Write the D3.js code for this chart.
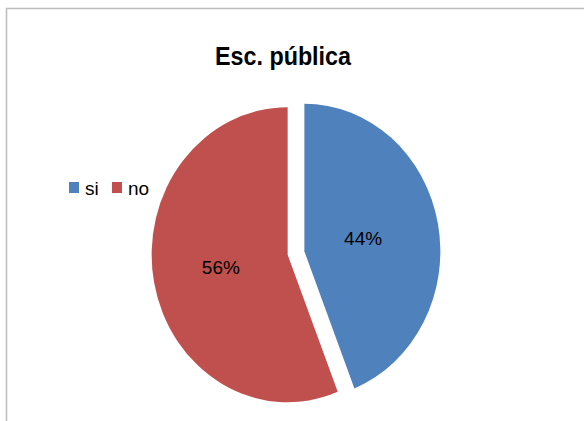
<!DOCTYPE html>
<html><head><meta charset="utf-8">
<script src="https://cdn.jsdelivr.net/npm/d3@7"></script>
<style>body{margin:0;background:#fff}svg{display:block}</style>
</head><body>
<script>
const categories = ["si", "no"];
const values = [44, 56];
const labels = ["44%", "56%"];
const colors = ["#4F81BD", "#C0504D"];
const title = "Esc. pública";

const W = 584, H = 421;
const svg = d3.select("body").append("svg").attr("width", W).attr("height", H);

// frame
svg.append("rect").attr("x", 6.5).attr("y", 8.5).attr("width", 600).attr("height", 450)
  .attr("fill", "#fff").attr("stroke", "#bdbdbd").attr("stroke-width", 1.5);

svg.append("text").attr("x", 283).attr("y", 65).attr("text-anchor", "middle")
  .attr("font-family", "Liberation Sans, Arial, sans-serif").attr("font-weight", "bold")
  .attr("font-size", 25).attr("textLength", 136).attr("lengthAdjust", "spacingAndGlyphs")
  .attr("fill", "#000").text(title);

const cx = 296, cy = 253, rx = 136, ry = 147.5, explode = 8.5;
const pie = d3.pie().sort(null).value(d => d)(values);
const arc = d3.arc().innerRadius(0).outerRadius(rx);
const g = svg.append("g").attr("transform", `translate(${cx},${cy}) scale(1,${ry/rx})`);
g.selectAll("path").data(pie).join("path")
  .attr("d", arc)
  .attr("fill", (d, i) => colors[i])
  .attr("transform", d => {
    const a = (d.startAngle + d.endAngle) / 2;
    return `translate(${Math.sin(a) * explode},${-Math.cos(a) * explode})`;
  });

const labelR = 0.47 * rx + explode;
svg.selectAll("text.lbl").data(pie).join("text").attr("class", "lbl")
  .attr("x", d => cx + Math.sin((d.startAngle + d.endAngle) / 2) * labelR - 4)
  .attr("y", d => cy - Math.cos((d.startAngle + d.endAngle) / 2) * labelR * ry / rx)
  .attr("dy", "0.35em").attr("text-anchor", "middle")
  .attr("font-family", "Liberation Sans, Arial, sans-serif").attr("font-size", 19)
  .attr("fill", "#000").text((d, i) => labels[i]);

// legend
const leg = svg.append("g");
const legX = [69, 112];
categories.forEach((c, i) => {
  leg.append("rect").attr("x", legX[i]).attr("y", 182).attr("width", 10).attr("height", 11).attr("fill", colors[i]);
  leg.append("text").attr("x", legX[i] + 16).attr("y", 195)
    .attr("font-family", "Liberation Sans, Arial, sans-serif").attr("font-size", 19)
    .attr("fill", "#000").text(c);
});
</script>
</body></html>
